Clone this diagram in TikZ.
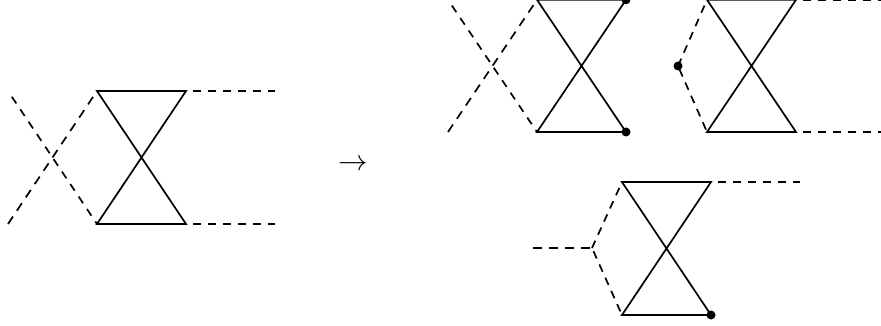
\documentclass[tikz,border=0pt]{standalone}
\tikzset{
  solidline/.style={line width=1.7pt,line join=miter},
  gapfirst/.style={line width=1.7pt,dash pattern=on 8pt off 7pt,dash phase=8pt},
  dashfirst/.style={line width=1.7pt,dash pattern=on 9pt off 7pt},
  branchup/.style={line width=1.7pt,dash pattern=on 8pt off 6.5pt},
  branchdown/.style={line width=1.7pt,dash pattern=on 8pt off 6.5pt,dash phase=11pt},
  blob/.style={circle,fill=black,inner sep=0pt,minimum size=9pt},
  pt/.style={inner sep=0pt,minimum size=0pt},
}
\begin{document}
\begin{tikzpicture}[x=1pt,y=-1pt]
\useasboundingbox (0,0) rectangle (881,326);
\clip (0,0) rectangle (881,326);
% first diagram
\node[pt] (atl) at (97,91) {};
\node[pt] (atr) at (186,91) {};
\node[pt] (abl) at (97,224) {};
\node[pt] (abr) at (186,224) {};
\node[pt] (ae1) at (275,91) {};
\node[pt] (ae2) at (275,224) {};
\node[pt] (ae3) at (8,91) {};
\node[pt] (ae4) at (8,224) {};
\draw[solidline] (atl.center) -- (atr.center) -- (abl.center) -- (abr.center) -- cycle;
\draw[gapfirst] (atr.center) -- (ae1.center);
\draw[gapfirst] (abr.center) -- (ae2.center);
\draw[dashfirst] (ae4.center) -- (atl.center);
\draw[gapfirst] (ae3.center) -- (abl.center);
% arrow
\node[inner sep=0pt,font=\fontsize{24.88}{30}\selectfont,scale=1.18] (arrow) at (353,165) {$\rightarrow$};
% second diagram
\node[pt] (btl) at (537,-0.2) {};
\node[pt] (btr) at (626,-0.2) {};
\node[pt] (bbl) at (537,132) {};
\node[pt] (bbr) at (626,132) {};
\node[pt] (be3) at (448,-0.2) {};
\node[pt] (be4) at (448,132) {};
\draw[solidline] (btl.center) -- (btr.center) -- (bbl.center) -- (bbr.center) -- cycle;
\draw[dashfirst] (be4.center) -- (btl.center);
\draw[gapfirst] (be3.center) -- (bbl.center);
\node[blob] at (btr) {};
\node[blob] at (bbr) {};
% third diagram
\node[pt] (ctl) at (707,-0.2) {};
\node[pt] (ctr) at (796,-0.2) {};
\node[pt] (cbl) at (707,132) {};
\node[pt] (cbr) at (796,132) {};
\node[pt] (ce1) at (885,-0.2) {};
\node[pt] (ce2) at (885,132) {};
\node[blob] (cv) at (678,66) {};
\draw[solidline] (ctl.center) -- (ctr.center) -- (cbl.center) -- (cbr.center) -- cycle;
\draw[gapfirst] (ctr.center) -- (ce1.center);
\draw[gapfirst] (cbr.center) -- (ce2.center);
\draw[branchup] (cv.center) -- (ctl.center);
\draw[branchdown] (cv.center) -- (cbl.center);
% fourth diagram
\node[pt] (dtl) at (622,182) {};
\node[pt] (dtr) at (711,182) {};
\node[pt] (dbl) at (622,315) {};
\node[pt] (dbr) at (711,315) {};
\node[pt] (de1) at (800,182) {};
\node[pt] (dv) at (592,248) {};
\node[pt] (de2) at (533,248) {};
\draw[solidline] (dtl.center) -- (dtr.center) -- (dbl.center) -- (dbr.center) -- cycle;
\draw[gapfirst] (dtr.center) -- (de1.center);
\draw[dashfirst] (de2.center) -- (dv.center);
\draw[branchup] (dv.center) -- (dtl.center);
\draw[branchdown] (dv.center) -- (dbl.center);
\node[blob] at (dbr) {};
\end{tikzpicture}
\end{document}
